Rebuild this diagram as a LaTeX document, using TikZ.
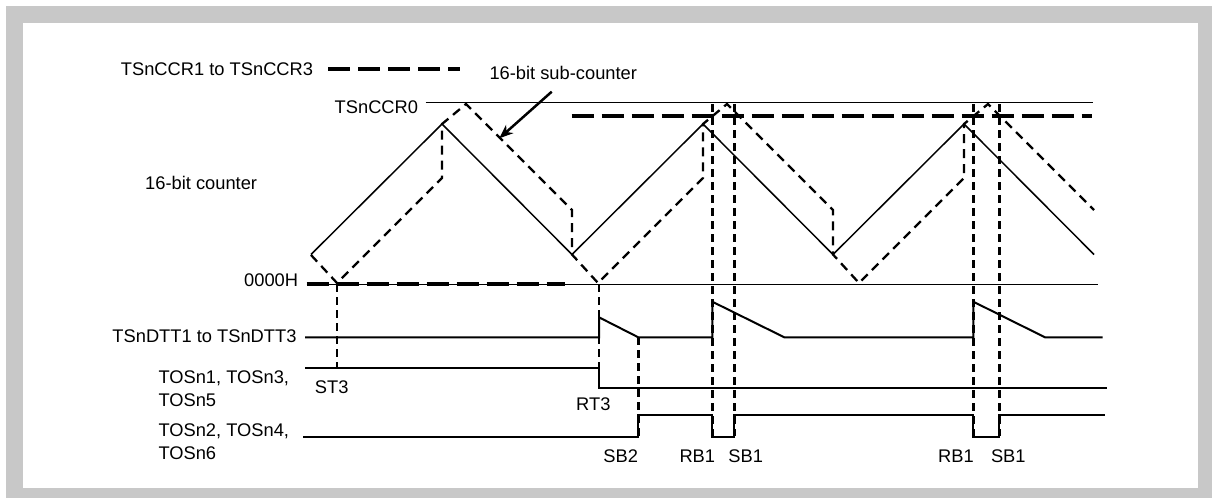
\documentclass[tikz,border=0pt]{standalone}
\usepackage{fontspec}
\setmainfont{Liberation Sans}
\usetikzlibrary{arrows.meta}
\definecolor{framegray}{RGB}{200,200,200}
\begin{document}
\begin{tikzpicture}[x=1pt,y=-1pt,
  lbl/.style={inner sep=0pt,font=\fontsize{18.3pt}{22pt}\selectfont},
  cnt/.style={line width=1.5pt},
  sub/.style={line width=2.3pt,dash pattern=on 9pt off 6pt},
  vdash/.style={line width=2.5pt,dash pattern=on 8pt off 5pt},
  ccr/.style={line width=4pt,dash pattern=on 22pt off 8pt},
  sig/.style={line width=2pt},
  refline/.style={line width=1pt},
  ]
\useasboundingbox (0,0) rectangle (1212,498);
\fill[white] (0,0) rectangle (1212,498);
\fill[framegray] (6,6) rectangle (1212,498);
\fill[white] (22.7,22.7) rectangle (1197.7,487.7);

% labels
\node[lbl,anchor=base west] (lccr) at (120.7,75.6) {TSnCCR1 to TSnCCR3};
\node[lbl,anchor=base west] (lsub) at (489.3,79.9) {16-bit sub-counter};
\node[lbl,anchor=base east] (lccr0) at (418.3,113.9) {TSnCCR0};
\node[lbl,anchor=base west] (lcnt) at (145,189.9) {16-bit counter};
\node[lbl,anchor=base east] (lzero) at (298.3,286.6) {0000H};
\node[lbl,anchor=base east] (ldtt) at (296.7,342.6) {TSnDTT1 to TSnDTT3};
\node[lbl,anchor=base west] (ltosa1) at (158.3,383.9) {TOSn1, TOSn3,};
\node[lbl,anchor=base west] (ltosa2) at (158.3,406.6) {TOSn5};
\node[lbl,anchor=base west] (ltosb1) at (158.3,436.6) {TOSn2, TOSn4,};
\node[lbl,anchor=base west] (ltosb2) at (158.3,459.3) {TOSn6};
\node[lbl,anchor=base] (lst3) at (331.7,393.3) {ST3};
\node[lbl,anchor=base] (lrt3) at (593.3,410.6) {RT3};
\node[lbl,anchor=base] (lsb2) at (620.7,462.6) {SB2};
\node[lbl,anchor=base] (lrb1a) at (697.3,462.6) {RB1};
\node[lbl,anchor=base] (lsb1a) at (745.7,462.6) {SB1};
\node[lbl,anchor=base] (lrb1b) at (956,462.6) {RB1};
\node[lbl,anchor=base] (lsb1b) at (1008.3,462.6) {SB1};

% reference lines
\draw[refline] (425.7,102.3) -- (1092.7,102.3);
\draw[refline] (306.7,284) -- (1098.3,284);
\draw[ccr] (328.3,69) -- (460,69);
\draw[ccr] (571.7,115.7) -- (1091.7,115.7);
\draw[ccr] (306.7,284) -- (565,284);

% 16-bit counter
\draw[cnt,line join=miter] (311,254.5) -- (442,124) -- (572,254.5) -- (703,124)
  -- (833,254.5) -- (964,124) -- (1094,254.5);

% 16-bit sub-counter
\draw[sub] (311,255) -- (337,283) -- (442,178) -- (442,124) -- (466,104)
  -- (572,210) -- (572,254.5) -- (598,283) -- (703,178) -- (703,124)
  -- (727,104) -- (833,210) -- (833,254.5) -- (859,283) -- (964,178)
  -- (964,124) -- (988,104) -- (1094,210);

% arrow to sub-counter
\coordinate (arrtail) at (551.7,91.7);
\coordinate (arrtip) at (499.3,138.3);
\draw[line width=2.5pt,-{Stealth[length=14pt,width=11pt]}] (arrtail) -- (arrtip);

% signals
\draw[sig] (305,337.3) -- (599,337.3) -- (599,317.3) -- (638.3,337.3) -- (712.3,337.3)
  -- (712.3,301.7) -- (784.3,337.3) -- (973.3,337.3) -- (973.3,301.7) -- (1045,337.3)
  -- (1102.7,337.3);
\draw[sig] (305,367.7) -- (599,367.7) -- (599,388.3) -- (1106.7,388.3);
\draw[sig] (303.3,436.7) -- (638.3,436.7) -- (638.3,415) -- (712.3,415) -- (712.3,436.7)
  -- (734.3,436.7) -- (734.3,415) -- (973.3,415) -- (973.3,436.7) -- (999.3,436.7)
  -- (999.3,415) -- (1105,415);

% vertical timing lines
\draw[vdash] (337,284) -- (337,368);
\draw[vdash] (599,284) -- (599,388);
\draw[vdash] (638.3,337) -- (638.3,436);
\draw[vdash] (712.3,104) -- (712.3,436);
\draw[vdash] (734.3,104) -- (734.3,436);
\draw[vdash] (973.3,104) -- (973.3,436);
\draw[vdash] (999.3,104) -- (999.3,436);
\end{tikzpicture}
\end{document}
